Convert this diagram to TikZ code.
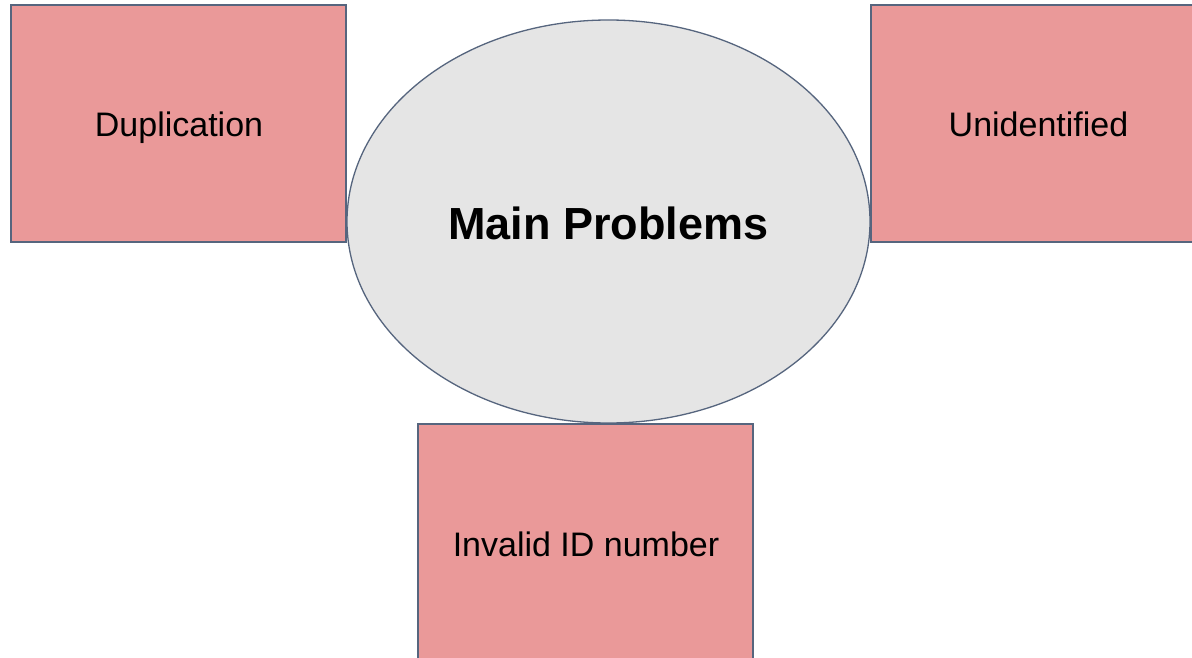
\documentclass[tikz,border=0pt]{standalone}
\usepackage{fontspec}
\setmainfont{Liberation Sans}
\usetikzlibrary{shapes.geometric}
\definecolor{boxfill}{HTML}{EA9999}
\definecolor{edgecol}{HTML}{56657E}
\definecolor{ellfill}{HTML}{E5E5E5}
\tikzset{
  probbox/.style={draw=edgecol, line width=1.3pt, fill=boxfill, inner sep=0pt},
  boxtext/.style={anchor=base, inner sep=0pt, font=\fontsize{34}{40}\selectfont, text=black},
  mainell/.style={ellipse, draw=edgecol, line width=1.3pt, fill=ellfill, inner sep=0pt,
    minimum width=523pt, minimum height=403pt}
}
\begin{document}
\begin{tikzpicture}[x=1pt,y=-1pt]
\useasboundingbox (0,0) rectangle (1192,658);
\clip (0,0) rectangle (1192,658);
\fill[white] (0,0) rectangle (1192,658);
\node[mainell] (main) at (608.5,221.5) {};
\node[anchor=base, inner sep=0pt, font=\fontsize{45}{52}\selectfont\bfseries] (maintext) at (608.5,239) {Main Problems};
\node[probbox, minimum width=335pt, minimum height=237pt] (dup) at (178.5,123.5) {};
\node[probbox, minimum width=334pt, minimum height=237pt] (unid) at (1038,123.5) {};
\node[probbox, minimum width=335pt, minimum height=242pt] (inv) at (585.5,545) {};
\node[boxtext] (duptext) at (179,137) {Duplication};
\node[boxtext] (unidtext) at (1038.5,137) {Unidentified};
\node[boxtext] (invtext) at (586,556) {Invalid ID number};
\end{tikzpicture}
\end{document}
